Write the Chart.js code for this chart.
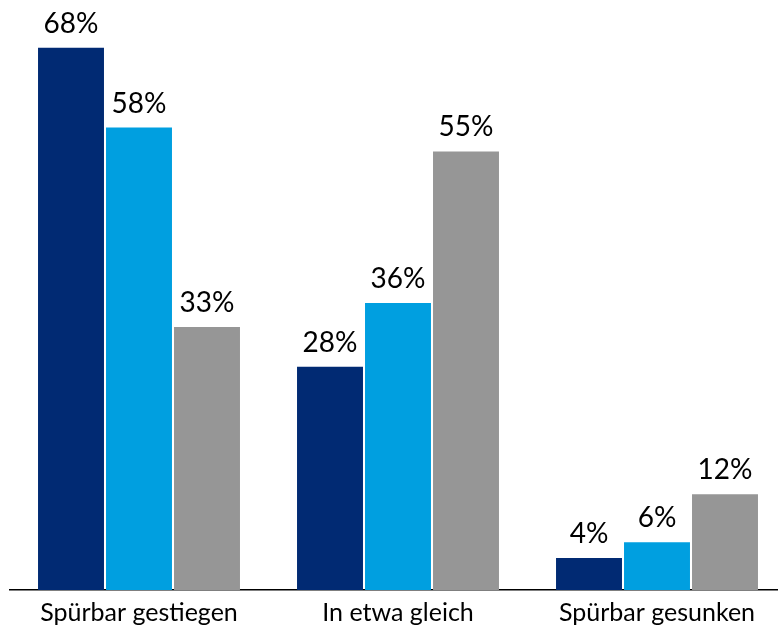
<!DOCTYPE html>
<html>
<head>
<meta charset="utf-8">
<script src="https://cdn.jsdelivr.net/npm/chart.js@4.4.0/dist/chart.umd.min.js"></script>
<style>
  html, body { margin: 0; padding: 0; background: #fff; overflow: hidden; }
  #wrap { position: relative; width: 800px; height: 635px; }
</style>
</head>
<body>
<div id="wrap"><canvas id="chart"></canvas></div>
<script>
  // ==== DATA ====
  var categories = ['Spürbar gestiegen', 'In etwa gleich', 'Spürbar gesunken'];
  var seriesA = [68, 28, 4];
  var seriesB = [58, 36, 6];
  var seriesC = [33, 55, 12];
  var colors = ['#012a73', '#009fe0', '#969696'];

  // value labels above each bar
  var barLabels = {
    id: 'barLabels',
    afterDatasetsDraw: function (chart) {
      var ctx = chart.ctx;
      ctx.save();
      ctx.font = '28px Lato';
      ctx.fillStyle = '#000';
      ctx.textAlign = 'center';
      ctx.textBaseline = 'alphabetic';
      chart.data.datasets.forEach(function (ds, i) {
        chart.getDatasetMeta(i).data.forEach(function (bar, j) {
          ctx.fillText(ds.data[j] + '%', bar.x, bar.y - 15);
        });
      });
      ctx.restore();
    }
  };

  function makeSet(data, color) {
    return { data: data, backgroundColor: color, borderWidth: 0, categoryPercentage: 0.7876, barPercentage: 0.97 };
  }

  new Chart(document.getElementById('chart').getContext('2d'), {
    type: 'bar',
    data: {
      labels: categories,
      datasets: [makeSet(seriesA, colors[0]), makeSet(seriesB, colors[1]), makeSet(seriesC, colors[2])]
    },
    options: {
      responsive: true, maintainAspectRatio: false, animation: false,
      layout: { padding: { left: 9.5, right: 13.5, top: 0, bottom: 0 } },
      plugins: { legend: { display: false }, tooltip: { enabled: false } },
      scales: {
        y: { display: false, min: 0, max: 74 },
        x: {
          grid: { display: false, drawTicks: false },
          border: { display: true, color: '#000', width: 1.5 },
          ticks: { color: '#000', padding: 10, font: { family: 'Lato', size: 25, lineHeight: 1.0 } }
        }
      }
    },
    plugins: [barLabels]
  });
</script>
</body>
</html>
